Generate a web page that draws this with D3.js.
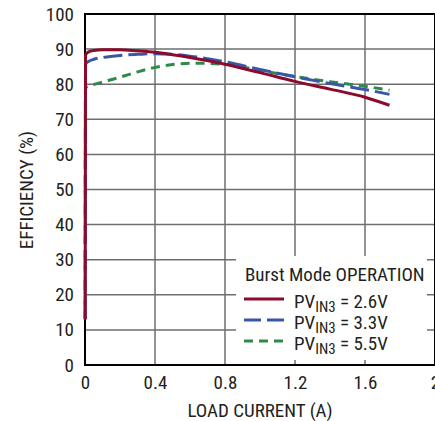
<!DOCTYPE html>
<html><head><meta charset="utf-8">
<script src="https://cdn.jsdelivr.net/npm/d3@7"></script>
<style>body{margin:0;background:#fff}svg{display:block}
text{font-family:"Liberation Sans Narrow","Roboto Condensed","Liberation Sans",sans-serif;fill:#231f20}</style>
</head><body><svg id="c" width="435" height="421"></svg>
<script>
const xTicks = [0, 0.4, 0.8, 1.2, 1.6, 2];
const xTickLabels = ["0", "0.4", "0.8", "1.2", "1.6", "2"];
const yTicks = [0,10,20,30,40,50,60,70,80,90,100];
const seriesNames = ["2.6V", "3.3V", "5.5V"];
const colors = ["#8c0a2c", "#3a56a8", "#2e8b47"];
const load = [0.001, 0.003, 0.02, 0.05, 0.1, 0.2, 0.3, 0.4, 0.5, 0.6, 0.8, 1.0, 1.2, 1.4, 1.6, 1.74];
const eff26 = [13, 88.3, 89.2, 89.6, 89.8, 89.8, 89.5, 89.1, 88.4, 87.6, 85.7, 83.3, 80.8, 78.6, 76.3, 74.0];
const eff33 = [13, 85.8, 86.5, 87.1, 87.6, 88.2, 88.5, 88.7, 88.5, 88.0, 86.4, 84.2, 82.1, 80.2, 78.5, 77.1];
const eff55 = [13, 79.0, 79.4, 79.9, 80.6, 82.0, 83.5, 84.8, 85.6, 86.0, 85.7, 83.9, 82.2, 80.7, 79.4, 78.3];
const effs = [eff26, eff33, eff55];
const dashes = [null, "19,6", "9,6"];

const svg = d3.select("#c");
const x = d3.scaleLinear().domain([0, 2]).range([85, 435]);
const y = d3.scaleLinear().domain([0, 100]).range([365, 14]);

// grid
svg.append("g").selectAll("line").data(yTicks.slice(1, -1)).join("line")
  .attr("x1", x(0)).attr("x2", x(2)).attr("y1", d => y(d)).attr("y2", d => y(d))
  .attr("stroke", "#6d6e71").attr("stroke-width", 1.5);
svg.append("g").selectAll("line").data(xTicks.slice(1, -1)).join("line")
  .attr("y1", y(0)).attr("y2", y(100)).attr("x1", d => x(d)).attr("x2", d => x(d))
  .attr("stroke", "#6d6e71").attr("stroke-width", 1.5);

// frame
svg.append("rect").attr("x", x(0)).attr("y", y(100)).attr("width", x(2) - x(0)).attr("height", y(0) - y(100))
  .attr("fill", "none").attr("stroke", "#000").attr("stroke-width", 2);

// curves
const line = d3.line().x(d => x(d[0])).y(d => y(d[1])).curve(d3.curveMonotoneX);
[2, 1, 0].forEach(i => {
  const e = effs[i];
  svg.append("path").datum(load.map((l, j) => [l, e[j]]))
    .attr("d", line).attr("fill", "none").attr("stroke", colors[i]).attr("stroke-width", 3)
    .attr("stroke-dasharray", dashes[i]);
});

// axes labels
const yAxis = d3.axisLeft(y).tickValues(yTicks).tickSize(0).tickPadding(11);
const gy = svg.append("g").attr("transform", `translate(${x(0)},0)`).call(yAxis);
gy.select(".domain").remove();
gy.selectAll("text").attr("font-size", 19).attr("font-family", null).attr("fill", "#231f20");
const xAxis = d3.axisBottom(x).tickValues(xTicks).tickFormat((d, i) => xTickLabels[i]).tickSize(0).tickPadding(11);
const gx = svg.append("g").attr("transform", `translate(0,${y(0)})`).call(xAxis);
gx.select(".domain").remove();
gx.selectAll("text").attr("font-size", 19).attr("font-family", null).attr("fill", "#231f20");

svg.append("text").attr("x", 260).attr("y", 417).attr("text-anchor", "middle").attr("font-size", 19).text("LOAD CURRENT (A)");
svg.append("text").attr("transform", "translate(33,190) rotate(-90)").attr("text-anchor", "middle").attr("font-size", 19).text("EFFICIENCY (%)");

// legend
const lg = svg.append("g");
lg.append("rect").attr("x", 236).attr("y", 256).attr("width", 191).attr("height", 104).attr("fill", "#fff");
lg.append("text").attr("x", 245).attr("y", 281).attr("font-size", 19).text("Burst Mode OPERATION");
seriesNames.forEach((n, i) => {
  const yy = 299 + i * 21;
  lg.append("line").attr("x1", 244).attr("x2", 284).attr("y1", yy).attr("y2", yy)
    .attr("stroke", colors[i]).attr("stroke-width", 3).attr("stroke-dasharray", i === 1 ? "17,6" : i === 2 ? "9,6" : null);
  const t = lg.append("text").attr("x", 294).attr("y", yy + 9).attr("font-size", 19);
  t.append("tspan").text("PV");
  t.append("tspan").attr("font-size", 15).attr("dy", 4).text("IN3");
  t.append("tspan").attr("dy", -4).text(" = " + n);
});
</script></body></html>
